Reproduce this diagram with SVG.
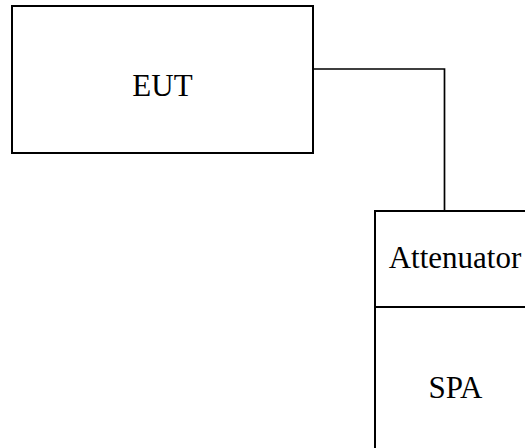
<svg xmlns="http://www.w3.org/2000/svg" width="525" height="448" viewBox="0 0 525 448">
<style>
.box{fill:#fff;stroke:#000;stroke-width:2}
.lbl{font-family:"Liberation Serif","Times New Roman",serif;font-size:31px;fill:#000;text-anchor:middle}
.wire{fill:none;stroke:#000;stroke-width:1.7}
</style>
<rect width="525" height="448" fill="#fff"/>
<g id="connectors">
<path class="wire" d="M313 69 H444.5 V211"/>
</g>
<g id="eut">
<rect class="box" x="12" y="6" width="301" height="147"/>
<text class="lbl" x="162.5" y="96">EUT</text>
</g>
<g id="attenuator">
<rect class="box" x="375" y="211" width="160" height="96"/>
<text class="lbl" x="455" y="268">Attenuator</text>
</g>
<g id="spa">
<rect class="box" x="375" y="307" width="160" height="180"/>
<text class="lbl" x="455.5" y="398">SPA</text>
</g>
</svg>
